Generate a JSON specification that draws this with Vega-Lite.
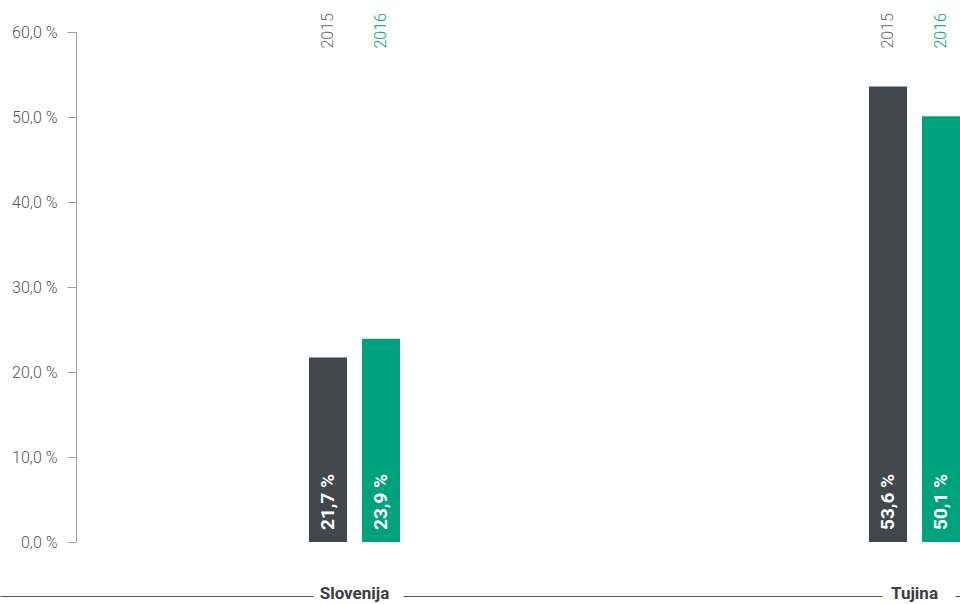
{
  "$schema": "https://vega.github.io/schema/vega-lite/v6.json",
  "autosize": {"type": "none"},
  "width": 960,
  "height": 510,
  "padding": {"left": 0, "top": 32, "right": 0, "bottom": 62},
  "background": "white",
  "config": {"view": {"stroke": null}, "font": "Roboto"},
  "data": {
    "values": [
      {"category": "Slovenija", "year": "2015", "value": 21.7},
      {"category": "Slovenija", "year": "2016", "value": 23.9},
      {"category": "Tujina", "year": "2015", "value": 53.6},
      {"category": "Tujina", "year": "2016", "value": 50.1}
    ]
  },
  "encoding": {
    "x": {
      "field": "category",
      "type": "nominal",
      "sort": ["Slovenija", "Tujina"],
      "scale": {"paddingInner": 0.8375, "paddingOuter": 0.2759, "align": 1},
      "axis": {
        "orient": "bottom",
        "offset": 54,
        "title": null,
        "ticks": false,
        "domainColor": "#555555",
        "domainWidth": 1.2,
        "domainDash": [313, 90, 479, 73, 40],
        "labelBaseline": "middle",
        "labelPadding": -3,
        "labelAngle": 0,
        "labelFont": "Roboto",
        "labelFontSize": 17,
        "labelFontWeight": "bold",
        "labelColor": "#3d3d3f"
      }
    },
    "xOffset": {
      "field": "year",
      "type": "nominal",
      "scale": {"paddingInner": 0.283, "paddingOuter": 0}
    }
  },
  "layer": [
    {
      "mark": {"type": "bar"},
      "encoding": {
        "y": {
          "field": "value",
          "type": "quantitative",
          "scale": {"domain": [0, 60]},
          "axis": {
            "offset": -76,
            "title": null,
            "grid": false,
            "values": [0, 10, 20, 30, 40, 50, 60],
            "domainColor": "#a0a0a0",
            "tickColor": "#a0a0a0",
            "tickSize": 9,
            "labelPadding": 10,
            "labelFont": "Roboto",
            "labelFontSize": 16,
            "labelFontWeight": 300,
            "labelColor": "#555555",
            "labelExpr": "replace(format(datum.value, '.1f'), '.', ',') + ' %'"
          }
        },
        "color": {
          "field": "year",
          "type": "nominal",
          "scale": {"domain": ["2015", "2016"], "range": ["#444749", "#00a27d"]},
          "legend": null
        }
      }
    },
    {
      "transform": [
        {"calculate": "replace(format(datum.value, '.1f'), '.', ',') + ' %'", "as": "label"}
      ],
      "mark": {
        "type": "text",
        "font": "Roboto",
        "angle": 270,
        "align": "left",
        "baseline": "middle",
        "dx": 12,
        "color": "white",
        "fontWeight": "bold",
        "fontSize": 19
      },
      "encoding": {
        "y": {"datum": 0},
        "text": {"field": "label"}
      }
    },
    {
      "mark": {
        "type": "text",
        "font": "Roboto",
        "angle": 270,
        "align": "right",
        "baseline": "middle",
        "dx": 19,
        "fontSize": 16,
        "fontWeight": 300
      },
      "encoding": {
        "y": {"datum": 60},
        "text": {"field": "year"},
        "color": {
          "condition": {"test": "datum.year == '2016'", "value": "#00a27d"},
          "value": "#6d6e70"
        }
      }
    }
  ]
}
